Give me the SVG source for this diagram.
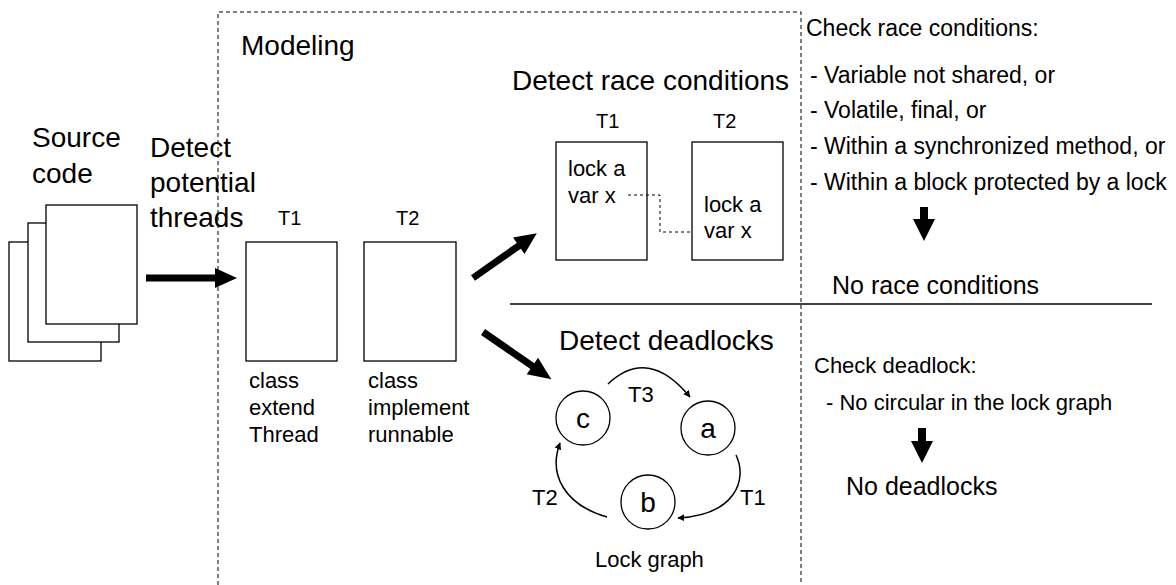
<svg xmlns="http://www.w3.org/2000/svg" width="1176" height="585" viewBox="0 0 1176 585">
  <style>
    text { font-family: "Liberation Sans", Arial, sans-serif; fill: #000; }
    .big { font-size: 28px; }
    .mid { font-size: 25px; }
    .txt { font-size: 22px; }
    .rule { font-size: 23px; }
    .lbl { font-size: 20px; }
    .box { fill: #fff; stroke: #000; stroke-width: 1.3; }
    .node { fill: #fff; stroke: #000; stroke-width: 1.3; }
    .frame { fill: none; stroke: #000; stroke-width: 1; stroke-dasharray: 4 3; }
    .edge { fill: none; stroke: #000; stroke-width: 1.5; marker-end: url(#tip); }
    .fat { fill: #000; }
  </style>
  <defs>
    <marker id="tip" viewBox="0 0 10 10" refX="9" refY="5" markerWidth="7" markerHeight="7" markerUnits="userSpaceOnUse" orient="auto">
      <path d="M0,0 L10,5 L0,10 z" fill="#000"/>
    </marker>
  </defs>

  <!-- modeling frame, open at the bottom -->
  <path class="frame" d="M218,585 V12 H801 V585"/>

  <!-- source files -->
  <g id="source">
    <rect class="box" x="9" y="242" width="92" height="119"/>
    <rect class="box" x="28" y="223" width="91" height="119"/>
    <rect class="box" x="46" y="205" width="91" height="119"/>
    <text class="big" x="32" y="147">Source</text>
    <text class="big" x="32" y="183">code</text>
  </g>

  <g id="detect-threads">
    <text class="big" x="150" y="157">Detect</text>
    <text class="big" x="150" y="192">potential</text>
    <text class="big" x="150" y="227">threads</text>
  </g>

  <text id="modeling" class="big" x="241" y="55">Modeling</text>

  <!-- thread models -->
  <g id="thread-t1">
    <text class="lbl" x="278" y="225">T1</text>
    <rect class="box" x="246" y="242" width="91" height="119"/>
    <text class="txt" x="249" y="388">class</text>
    <text class="txt" x="249" y="415">extend</text>
    <text class="txt" x="249" y="442">Thread</text>
  </g>
  <g id="thread-t2">
    <text class="lbl" x="396" y="225">T2</text>
    <rect class="box" x="364" y="242" width="92" height="119"/>
    <text class="txt" x="368" y="388">class</text>
    <text class="txt" x="368" y="415">implement</text>
    <text class="txt" x="368" y="442">runnable</text>
  </g>

  <!-- race condition check -->
  <g id="race">
    <text class="big" x="512" y="90">Detect race conditions</text>
    <text class="lbl" x="596" y="128">T1</text>
    <text class="lbl" x="713" y="128">T2</text>
    <rect class="box" x="556" y="142" width="91" height="118"/>
    <rect class="box" x="692" y="142" width="91" height="118"/>
    <text class="txt" x="568" y="176">lock a</text>
    <text class="txt" x="568" y="203">var x</text>
    <text class="txt" x="704" y="212">lock a</text>
    <text class="txt" x="704" y="238">var x</text>
  </g>

  <!-- deadlock check -->
  <g id="deadlock">
    <text class="big" x="559" y="350">Detect deadlocks</text>
    <text class="txt" x="595" y="567">Lock graph</text>
  </g>
  <g id="lock-c">
    <circle class="node" cx="583" cy="418" r="27"/>
    <text class="big" x="583" y="428" text-anchor="middle">c</text>
  </g>
  <g id="lock-a">
    <circle class="node" cx="708" cy="428" r="27"/>
    <text class="big" x="708" y="438" text-anchor="middle">a</text>
  </g>
  <g id="lock-b">
    <circle class="node" cx="648" cy="502" r="27"/>
    <text class="big" x="648" y="512" text-anchor="middle">b</text>
  </g>

  <!-- checks on the right -->
  <g id="race-rules">
    <text class="rule" x="806" y="36">Check race conditions:</text>
    <text class="rule" x="810" y="83">- Variable not shared, or</text>
    <text class="rule" x="810" y="118">- Volatile, final, or</text>
    <text class="rule" x="810" y="154">- Within a synchronized method, or</text>
    <text class="rule" x="810" y="190">- Within a block protected by a lock</text>
    <text class="mid" x="832" y="294">No race conditions</text>
  </g>
  <g id="deadlock-rules">
    <text class="txt" x="814" y="373">Check deadlock:</text>
    <text class="txt" x="826" y="410">- No circular in the lock graph</text>
    <text class="mid" x="846" y="495">No deadlocks</text>
  </g>

  <!-- connectors -->
  <g id="connectors">
    <!-- source to threads -->
    <polygon class="fat" points="146,274.5 215,274.5 215,268 237,278 215,288 215,281.5 146,281.5"/>
    <!-- threads to race check -->
    <g transform="translate(473,278) rotate(-35.1)">
      <polygon class="fat" points="0,-3.5 56,-3.5 56,-10 78,0 56,10 56,3.5 0,3.5"/>
    </g>
    <!-- threads to deadlock check -->
    <g transform="translate(483,332) rotate(34.6)">
      <polygon class="fat" points="0,-3.5 60,-3.5 60,-10 83,0 60,10 60,3.5 0,3.5"/>
    </g>
    <!-- shared variable link -->
    <path d="M628,195 H660 V232 H692" fill="none" stroke="#000" stroke-width="1" stroke-dasharray="3 3"/>
    <!-- separator -->
    <line x1="510" y1="304" x2="1152" y2="304" stroke="#000" stroke-width="1.3"/>
    <!-- lock graph edges -->
    <path class="edge" d="M608,384 Q648,346 690,397"/>
    <path class="edge" d="M736,455 C748,480 735,515 678,518"/>
    <path class="edge" d="M607,517 C565,505 548,475 560,443"/>
    <text class="txt" x="628" y="402">T3</text>
    <text class="txt" x="740" y="505">T1</text>
    <text class="txt" x="532" y="505">T2</text>
    <!-- result arrows -->
    <polygon class="fat" points="920,207 928,207 928,219 935,219 924,241 913,219 920,219"/>
    <polygon class="fat" points="918,428 926,428 926,441 933,441 922,463 911,441 918,441"/>
  </g>
</svg>
